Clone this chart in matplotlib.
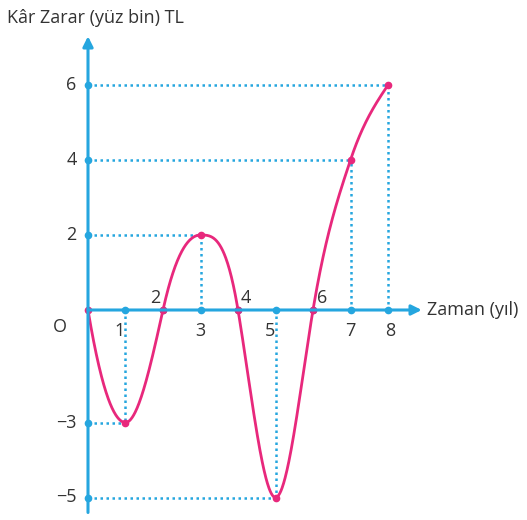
import numpy as np
import matplotlib.pyplot as plt

# key points of the profit/loss curve (and slopes)
xs = [0, 1, 2, 3, 4, 5, 6, 7, 8]
ys = [0, -3, 0, 2, 0, -5, 0, 4, 6]
slopes = [-6, 0, 4.5, 0, -6, 0, 6, 3, 1.5]

x_ticks = [1, 2, 3, 4, 5, 6, 7, 8]
y_ticks = [6, 4, 2, -3, -5]
guide_pts = [(1, -3), (3, 2), (5, -5), (7, 4), (8, 6)]

blue = '#25a6df'
pink = '#e8287c'
txt = '#333333'


def hermite(x, y, m, xn):
    x = np.asarray(x, float)
    y = np.asarray(y, float)
    m = np.asarray(m, float)
    h = np.diff(x)
    out = np.empty_like(xn)
    for i, t in enumerate(xn):
        k = min(np.searchsorted(x, t, side='right') - 1, len(x) - 2)
        s = (t - x[k]) / h[k]
        h00 = 2 * s**3 - 3 * s**2 + 1
        h10 = s**3 - 2 * s**2 + s
        h01 = -2 * s**3 + 3 * s**2
        h11 = s**3 - s**2
        out[i] = h00 * y[k] + h10 * h[k] * m[k] + h01 * y[k + 1] + h11 * h[k] * m[k + 1]
    return out


plt.rcParams['font.family'] = ['Open Sans', 'DejaVu Sans']

fig = plt.figure(figsize=(5.27, 5.2), dpi=100)
ax = fig.add_axes([0, 0, 1, 1])
ax.set_xlim(-88 / 37.5, (527 - 88) / 37.5)
ax.set_ylim(-(520 - 310) / 37.5, 310 / 37.5)
ax.axis('off')

# axes with arrows
ax.annotate('', xy=(8.9, 0), xytext=(0, 0),
            arrowprops=dict(arrowstyle='-|>,head_length=0.6,head_width=0.3', color=blue, lw=2.2, shrinkA=0, shrinkB=0))
ax.annotate('', xy=(0, 7.3), xytext=(0, -5.4),
            arrowprops=dict(arrowstyle='-|>,head_length=0.6,head_width=0.3', color=blue, lw=2.2, shrinkA=0, shrinkB=0))

# dotted guides
for px, py in guide_pts:
    ax.plot([px, px], [0, py], color=blue, lw=1.8, ls=(0, (1, 1.4)))
    ax.plot([0, px], [py, py], color=blue, lw=1.8, ls=(0, (1, 1.4)))

# tick dots
ax.plot(x_ticks, [0] * len(x_ticks), 'o', color=blue, ms=4.5)
ax.plot([0] * len(y_ticks), y_ticks, 'o', color=blue, ms=4.5)

# curve
xn = np.linspace(0, 8, 800)
ax.plot(xn, hermite(xs, ys, slopes, xn), color=pink, lw=2, solid_capstyle='round')
ax.plot(xs, ys, 'o', color=pink, ms=4.5)

fs = 13
# y labels
for v in y_ticks:
    lab = str(v) if v > 0 else '\u2212' + str(-v)
    ax.text(-0.3, v, lab, ha='right', va='center', fontsize=fs, color=txt)

# x labels
below = {1: 0.85, 3: 3.0, 5: 4.85, 7: 7.0, 8: 8.05}
above = {2: 1.8, 4: 4.2, 6: 6.25}
for v in x_ticks:
    if v in below:
        ax.text(below[v], -0.55, str(v), ha='center', va='center', fontsize=fs, color=txt)
    else:
        ax.text(above[v], 0.32, str(v), ha='center', va='center', fontsize=fs, color=txt)
ax.text(-0.75, -0.45, 'O', ha='center', va='center', fontsize=fs, color=txt)

ax.text(9.05, 0, 'Zaman (yıl)', ha='left', va='center', fontsize=fs, color=txt)
ax.text(-2.15, 7.78, 'Kâr Zarar (yüz bin) TL', ha='left', va='center', fontsize=fs, color=txt)

fig.savefig('out.png', dpi=100)
